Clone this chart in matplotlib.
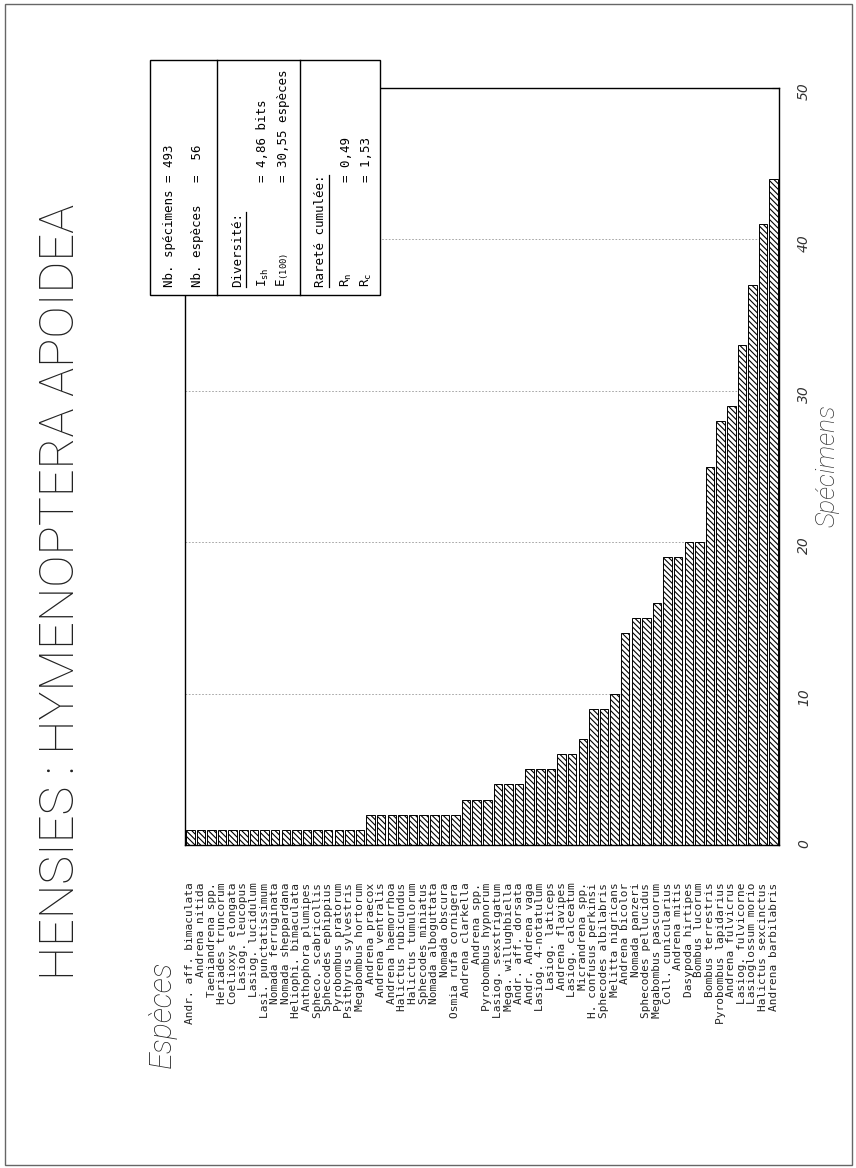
import numpy as np
import matplotlib
matplotlib.use("Agg")
import matplotlib.pyplot as plt
from matplotlib.patches import Rectangle
from matplotlib.lines import Line2D

species = [
    "Andr. aff. bimaculata", "Andrena nitida", "Taeniandrena spp.", "Heriades truncorum",
    "Coelioxys elongata", "Lasiog. leucopus", "Lasiog. lucidulum", "Lasi. punctatissimum",
    "Nomada ferruginata", "Nomada sheppardana", "Heliophi. bimaculata", "Anthophora plumipes",
    "Spheco. scabricollis", "Sphecodes ephippius", "Pyrobombus pratorum", "Psithyrus sylvestris",
    "Megabombus hortorum", "Andrena praecox", "Andrena ventralis", "Andrena haemorrhoa",
    "Halictus rubicundus", "Halictus tumulorum", "Sphecodes miniatus", "Nomada alboguttata",
    "Nomada obscura", "Osmia rufa cornigera", "Andrena clarkella", "Andrena spp.",
    "Pyrobombus hypnorum", "Lasiog. sexstrigatum", "Mega. willughbiella", "Andr. aff. dorsata",
    "Andr. Andrena vaga", "Lasiog. 4-notatulum", "Lasiog. laticeps", "Andrena flavipes",
    "Lasiog. calceatum", "Micrandrena spp.", "H. confusus perkinsi", "Sphecodes albilabris",
    "Melitta nigricans", "Andrena bicolor", "Nomada panzeri", "Sphecodes pellucidus",
    "Megabombus pascuorum", "Coll. cunicularius", "Andrena mitis", "Dasypoda hirtipes",
    "Bombus lucorum", "Bombus terrestris", "Pyrobombus lapidarius", "Andrena fulvicrus",
    "Lasiog. fulvicorne", "Lasioglossum morio", "Halictus sexcinctus", "Andrena barbilabris",
]
specimens = [1, 1, 1, 1, 1, 1, 1, 1, 1, 1, 1, 1, 1, 1, 1, 1, 1,
             2, 2, 2, 2, 2, 2, 2, 2, 2,
             3, 3, 3, 4, 4, 4, 5, 5, 5, 6, 6, 7, 9, 9, 10,
             14, 15, 15, 16, 19, 19, 20, 20, 25, 28, 29, 33, 37, 41, 44]
value_ticks = [0, 10, 20, 30, 40, 50]

W, H = 856, 1168
plt.rcParams['hatch.linewidth'] = 0.8
plt.rcParams['hatch.color'] = 'black'
plt.rcParams['mathtext.default'] = 'regular'

fig = plt.figure(figsize=(W / 100, H / 100), dpi=100)


def fx(x):
    return x / W


def fy(y):
    return 1 - y / H


# page border
fig.add_artist(Rectangle((fx(5), fy(1165)), fx(847), 1161 / H, fill=False,
                         edgecolor='#666666', linewidth=1.0, transform=fig.transFigure))

ax = fig.add_axes([fx(185), fy(845), fx(779 - 185), (845 - 88) / H])
x = np.arange(len(species))
ax.bar(x, specimens, width=0.8, facecolor='white', edgecolor='black',
       hatch='\\\\\\\\\\\\', linewidth=0.7, zorder=2)
ax.set_xlim(-0.5, len(species) - 0.5)
ax.set_ylim(0, 50)
ax.set_xticks(x)
ax.set_xticklabels(species, rotation=90, family='DejaVu Sans Mono', fontsize=8, color='#222222')
ax.tick_params(axis='x', length=0, pad=27)
ax.yaxis.tick_right()
ax.set_yticks(value_ticks)
ax.set_yticklabels([str(v) for v in value_ticks], style='italic', fontsize=10, color='#333333')
ax.tick_params(axis='y', direction='in', length=5, pad=13, labelrotation=90)
ax.yaxis.grid(True, linestyle=(0, (2, 2)), color='#999999', linewidth=0.6, zorder=1)
for s in ax.spines.values():
    s.set_linewidth(1.0)

# titles
fig.text(fx(61), fy(980), "HENSIES : HYMENOPTERA APOIDEA", rotation=90, ha='center', va='bottom',
         family='Roboto', fontweight='light', fontsize=35, color='#222222')
fig.text(fx(162), fy(1068), "Espèces", rotation=90, ha='center', va='bottom',
         family='Roboto', fontweight='light', style='italic', fontsize=22, color='#222222')
fig.text(fx(828), fy(466), "Spécimens", rotation=90, ha='center', va='center',
         family='Roboto', fontweight='light', style='italic', fontsize=19, color='#333333')

# info box
bx0, bx1, by0, by1 = 150, 380, 60, 295
fig.add_artist(Rectangle((fx(bx0), fy(by1)), fx(bx1 - bx0), (by1 - by0) / H, facecolor='white',
                         edgecolor='black', linewidth=1.0, transform=fig.transFigure, zorder=5))
for dx in [217, 300]:
    fig.add_artist(Line2D([fx(dx), fx(dx)], [fy(by1), fy(by0)], color='black', linewidth=1.0,
                          transform=fig.transFigure, zorder=6))

box_font = dict(family='DejaVu Sans Mono', fontsize=9, rotation=90, ha='center', va='bottom', zorder=7)
fig.text(fx(170), fy(287), "Nb. spécimens = 493", **box_font)
fig.text(fx(197), fy(287), "Nb. espèces   =  56", **box_font)
underlined = []
underlined.append(fig.text(fx(238), fy(287), "Diversité:", **box_font))
fig.text(fx(263), fy(287), "I$_{sh}$", **box_font)
fig.text(fx(263), fy(182), "= 4,86 bits", **box_font)
fig.text(fx(283), fy(287), "E$_{(100)}$", **box_font)
fig.text(fx(283), fy(182), "= 30,55 espèces", **box_font)
underlined.append(fig.text(fx(321), fy(287), "Rareté cumulée:", **box_font))
fig.text(fx(346), fy(287), "R$_{n}$", **box_font)
fig.text(fx(346), fy(182), "= 0,49", **box_font)
fig.text(fx(366), fy(287), "R$_{c}$", **box_font)
fig.text(fx(366), fy(182), "= 1,53", **box_font)

fig.canvas.draw()
r = fig.canvas.get_renderer()
for t in underlined:
    bb = t.get_window_extent(r)
    xu = (bb.x1 + 1) / W
    fig.add_artist(Line2D([xu, xu], [bb.y0 / H, bb.y1 / H], color='black', linewidth=0.9,
                          transform=fig.transFigure, zorder=7))

fig.savefig("out.png", dpi=100)
